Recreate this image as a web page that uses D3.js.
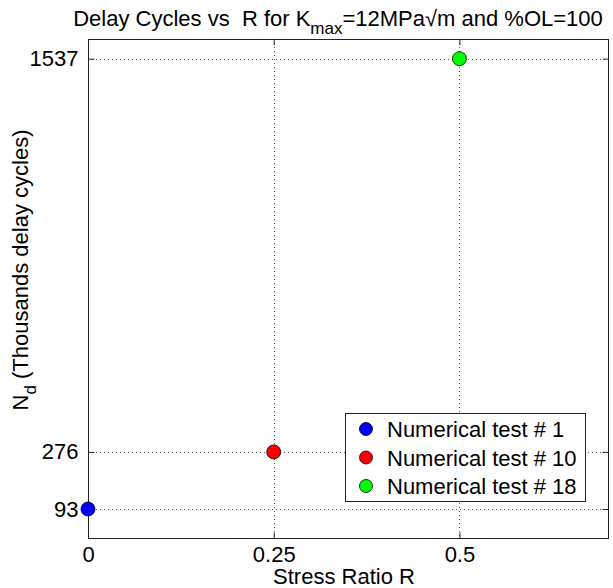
<!DOCTYPE html>
<html>
<head>
<meta charset="utf-8">
<script src="https://cdn.jsdelivr.net/npm/d3@7"></script>
<style>
  body { margin: 0; background: #fff; }
  text { font-family: "Liberation Sans", Arial, sans-serif; fill: #000; }
</style>
</head>
<body>
<div id="chart"></div>
<script>
// values
var testNames = ["Numerical test # 1", "Numerical test # 10", "Numerical test # 18"];
var stressRatio = [0, 0.25, 0.5];
var delayCycles = [93, 276, 1537];
var pointColors = ["#0000ff", "#ff0000", "#00ff00"];
var xTicks = [0, 0.25, 0.5];
var yTicks = [93, 276, 1537];

var W = 613, H = 588;
var pLeft = 88, pRight = 608, pTop = 39, pBottom = 538;

var svg = d3.select("#chart").append("svg")
  .attr("width", W)
  .attr("height", H);

var x = d3.scaleLinear().domain([0, 0.7]).range([pLeft, pRight]);
var y = d3.scaleLinear().domain([0, 1600]).range([pBottom, pTop]);

var points = stressRatio.map(function (d, i) {
  return { r: d, n: delayCycles[i], name: testNames[i], color: pointColors[i] };
});

// grid
var grid = svg.append("g").attr("class", "grid");
grid.selectAll(".vgrid")
  .data(xTicks.filter(function (d) { return d > 0; }))
  .enter().append("line")
  .attr("x1", function (d) { return Math.round(x(d)) + 0.5; })
  .attr("x2", function (d) { return Math.round(x(d)) + 0.5; })
  .attr("y1", pTop).attr("y2", pBottom)
  .attr("stroke", "#555").attr("stroke-width", 1)
  .attr("stroke-dasharray", "1,3");
grid.selectAll(".hgrid")
  .data(yTicks)
  .enter().append("line")
  .attr("y1", function (d) { return Math.round(y(d)) + 0.5; })
  .attr("y2", function (d) { return Math.round(y(d)) + 0.5; })
  .attr("x1", pLeft).attr("x2", pRight)
  .attr("stroke", "#555").attr("stroke-width", 1)
  .attr("stroke-dasharray", "1,3");

// box
svg.append("rect")
  .attr("x", pLeft + 0.5).attr("y", pTop + 0.5)
  .attr("width", pRight - pLeft).attr("height", pBottom - pTop)
  .attr("fill", "none").attr("stroke", "#222").attr("stroke-width", 1);

// axes (ticks inside, mirrored)
var xAxisB = d3.axisBottom(x).tickValues(xTicks).tickSizeInner(-6).tickSizeOuter(0).tickPadding(8)
  .tickFormat(function (d) { return String(d); });
var xAxisT = d3.axisTop(x).tickValues(xTicks).tickSizeInner(-6).tickSizeOuter(0).tickFormat("");
var yAxisL = d3.axisLeft(y).tickValues(yTicks).tickSizeInner(-6).tickSizeOuter(0).tickPadding(10)
  .tickFormat(function (d) { return String(d); });
var yAxisR = d3.axisRight(y).tickValues(yTicks).tickSizeInner(-6).tickSizeOuter(0).tickFormat("");

function styleAxis(g) {
  g.select(".domain").remove();
  g.selectAll(".tick line").attr("stroke", "#222");
  g.selectAll(".tick text").style("font-size", "22px").attr("fill", "#000");
}

svg.append("g").attr("transform", "translate(0," + (pBottom + 0.5) + ")").call(xAxisB).call(styleAxis);
svg.append("g").attr("transform", "translate(0," + (pTop + 0.5) + ")").call(xAxisT).call(styleAxis);
svg.append("g").attr("transform", "translate(" + (pLeft + 0.5) + ",0)").call(yAxisL).call(styleAxis);
svg.append("g").attr("transform", "translate(" + (pRight + 0.5) + ",0)").call(yAxisR).call(styleAxis);

// points
svg.selectAll(".pt")
  .data(points)
  .enter().append("circle")
  .attr("class", "pt")
  .attr("cx", function (d) { return x(d.r); })
  .attr("cy", function (d) { return y(d.n); })
  .attr("r", 7)
  .attr("fill", function (d) { return d.color; })
  .attr("stroke", "#000").attr("stroke-width", 0.8);

// title
var title = svg.append("text")
  .attr("x", 338)
  .attr("y", 26)
  .attr("text-anchor", "middle")
  .style("font-size", "22px");
title.append("tspan").text("Delay Cycles vs\u00a0\u00a0R for K");
title.append("tspan").attr("dy", 8).style("font-size", "17px").text("max");
title.append("tspan").attr("dy", -8).text("=12MPa\u221am and %OL=100");

// x label
svg.append("text")
  .attr("x", 344)
  .attr("y", 584)
  .attr("text-anchor", "middle")
  .style("font-size", "22px")
  .text("Stress Ratio R");

// y label
var ylab = svg.append("text")
  .attr("transform", "translate(28,270) rotate(-90)")
  .attr("text-anchor", "middle")
  .style("font-size", "22px");
ylab.append("tspan").text("N");
ylab.append("tspan").attr("dy", 8).style("font-size", "17px").text("d");
ylab.append("tspan").attr("dy", -8).text(" (Thousands delay cycles)");

// legend
var legend = svg.append("g").attr("transform", "translate(345,413)");
legend.append("rect")
  .attr("x", 0.5).attr("y", 0.5)
  .attr("width", 240).attr("height", 88)
  .attr("fill", "#fff").attr("stroke", "#222");
var items = legend.selectAll(".item")
  .data(points)
  .enter().append("g")
  .attr("class", "item")
  .attr("transform", function (d, i) { return "translate(0," + (16 + i * 28.5) + ")"; });
items.append("circle")
  .attr("cx", 21).attr("cy", 0).attr("r", 6.5)
  .attr("fill", function (d) { return d.color; })
  .attr("stroke", "#000").attr("stroke-width", 0.8);
items.append("text")
  .attr("x", 42).attr("y", 8)
  .style("font-size", "22px")
  .text(function (d) { return d.name; });
</script>
</body>
</html>
